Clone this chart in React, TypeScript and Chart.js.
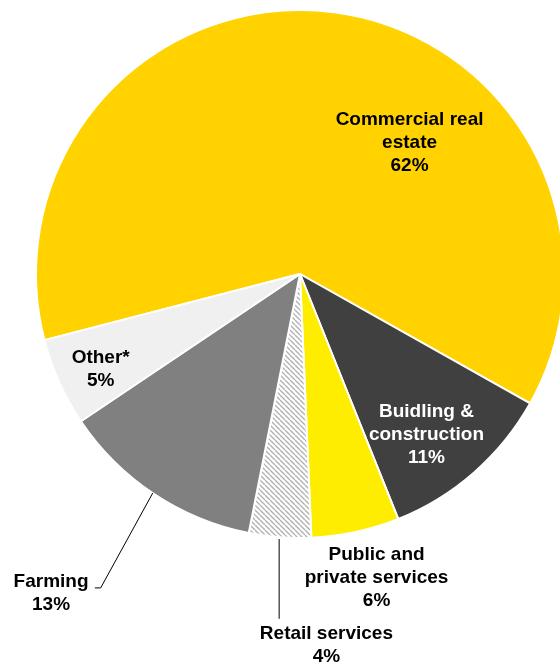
import React, { useEffect, useRef } from "react";
import { Chart, registerables } from "chart.js";

Chart.register(...registerables);

const categories = [
  "Commercial real estate",
  "Buidling & construction",
  "Public and private services",
  "Retail services",
  "Farming",
  "Other*",
];
const values = [62.3, 10.8, 5.4, 3.8, 12.5, 5.4];
const percentLabels = ["62%", "11%", "6%", "4%", "13%", "5%"];
const labelLines = [
  ["Commercial real", "estate"],
  ["Buidling &", "construction"],
  ["Public and", "private services"],
  ["Retail services"],
  ["Farming"],
  ["Other*"],
];

// label placement relative to pie centre, in units of radius
const labelPos = [
  { x: 0.415, y: -0.498, color: "#000" },
  { x: 0.479, y: 0.608, color: "#fff" },
  { x: 0.29, y: 1.152, color: "#000" },
  { x: 0.1, y: 1.405, color: "#000" },
  { x: -0.943, y: 1.21, color: "#000" },
  { x: -0.755, y: 0.36, color: "#000" },
];
const leaders: { [k: number]: number[][] } = {
  3: [
    [-0.079, 1.004],
    [-0.079, 1.306],
  ],
  4: [
    [-0.558, 0.83],
    [-0.755, 1.189],
    [-0.777, 1.189],
  ],
};

function makeHatch(): CanvasPattern | string {
  const c = document.createElement("canvas");
  c.width = 5;
  c.height = 5;
  const ctx = c.getContext("2d");
  if (!ctx) return "#ddd";
  ctx.fillStyle = "#ffffff";
  ctx.fillRect(0, 0, 5, 5);
  ctx.strokeStyle = "#b0b0b0";
  ctx.lineWidth = 1.3;
  for (let k = -5; k <= 10; k += 5) {
    ctx.beginPath();
    ctx.moveTo(k, 0);
    ctx.lineTo(k + 5, 5);
    ctx.stroke();
  }
  const p = ctx.createPattern(c, "repeat");
  return p || "#ddd";
}

const labelPlugin = {
  id: "pieLabels",
  afterDatasetsDraw(chart: any) {
    const meta = chart.getDatasetMeta(0);
    const arc = meta.data[0];
    if (!arc) return;
    const cx = arc.x;
    const cy = arc.y;
    const r = arc.outerRadius;
    const ctx = chart.ctx;
    ctx.save();
    ctx.strokeStyle = "#000";
    ctx.lineWidth = 1;
    Object.keys(leaders).forEach((k) => {
      const pts = leaders[Number(k)];
      ctx.beginPath();
      pts.forEach((p, i) => {
        const px = cx + p[0] * r;
        const py = cy + p[1] * r;
        if (i === 0) ctx.moveTo(px, py);
        else ctx.lineTo(px, py);
      });
      ctx.stroke();
    });
    ctx.font = "bold 19px 'Liberation Sans', Arial, sans-serif";
    ctx.textAlign = "center";
    ctx.textBaseline = "middle";
    const lh = 23;
    categories.forEach((_, i) => {
      const lines = [...labelLines[i], percentLabels[i]];
      const pos = labelPos[i];
      const x = cx + pos.x * r;
      const y0 = cy + pos.y * r - ((lines.length - 1) * lh) / 2;
      ctx.fillStyle = pos.color;
      lines.forEach((t, j) => ctx.fillText(t, x, y0 + j * lh));
    });
    ctx.restore();
  },
};

export default function App() {
  const ref = useRef<HTMLCanvasElement>(null);
  useEffect(() => {
    if (!ref.current) return;
    const colors = ["#FFD200", "#404040", "#FFED00", makeHatch(), "#808080", "#F0F0F0"];
    const chart = new Chart(ref.current, {
      type: "pie",
      data: {
        labels: categories,
        datasets: [
          {
            data: values,
            backgroundColor: colors as any,
            borderColor: "#ffffff",
            borderWidth: 2,
          },
        ],
      },
      options: {
        responsive: false,
        animation: false,
        rotation: -104.5,
        layout: { padding: { top: 9, bottom: 125, left: 0, right: 0 } },
        plugins: {
          legend: { display: false },
          tooltip: { enabled: false },
        },
      },
      plugins: [labelPlugin],
    });
    return () => chart.destroy();
  }, []);
  return (
    <div
      style={{
        position: "fixed",
        left: 0,
        top: 0,
        width: 560,
        height: 664,
        overflow: "hidden",
        background: "#fff",
      }}
    >
      <canvas
        ref={ref}
        width={600}
        height={664}
        style={{ position: "absolute", left: 0, top: 0, width: 600, height: 664 }}
      />
    </div>
  );
}
